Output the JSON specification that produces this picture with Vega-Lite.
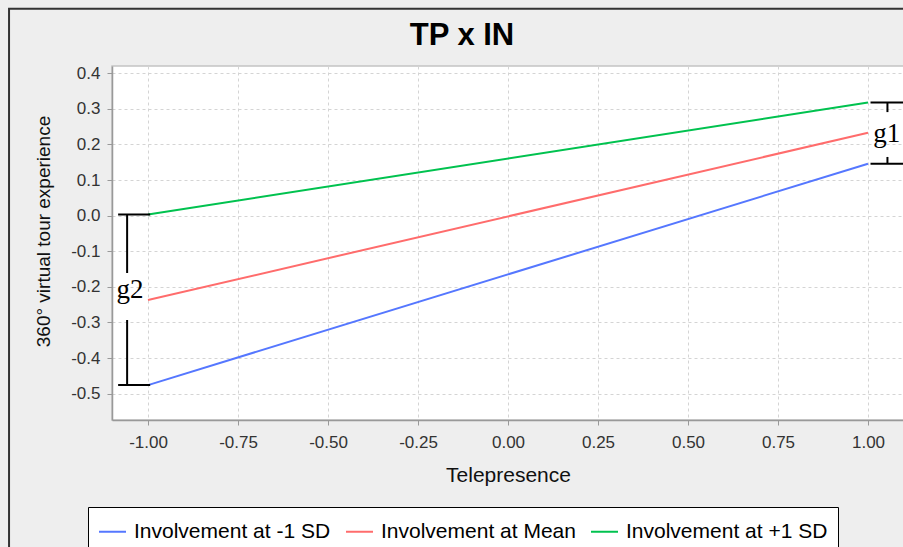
{
  "$schema": "https://vega.github.io/schema/vega-lite/v6.json",
  "width": 792,
  "height": 354,
  "autosize": {"type": "none"},
  "padding": {"left": 112, "top": 66, "right": 0, "bottom": 127},
  "background": "#eeeeee",
  "title": {
    "text": "TP x IN",
    "font": "Liberation Sans",
    "fontSize": 31,
    "fontWeight": "bold",
    "color": "#000000",
    "anchor": "middle",
    "dx": -46,
    "baseline": "alphabetic",
    "offset": -68
  },
  "config": {
    "view": {"fill": "white", "stroke": "#c4c4c4", "strokeWidth": 1.5},
    "font": "Liberation Sans",
    "axis": {"labelOverlap": false, "labelFlush": false},
    "axisY": {"labelOverlap": false},
    "axisQuantitative": {"labelOverlap": false},
    "locale": {
      "number": {
        "decimal": ".",
        "thousands": ",",
        "grouping": [3],
        "currency": ["$", ""],
        "minus": "-"
      }
    }
  },
  "datasets": {
    "lines": [
      {"series": "Involvement at -1 SD", "x": -1, "y": -0.476},
      {"series": "Involvement at -1 SD", "x": 1, "y": 0.146},
      {"series": "Involvement at Mean", "x": -1, "y": -0.237},
      {"series": "Involvement at Mean", "x": 1, "y": 0.233},
      {"series": "Involvement at +1 SD", "x": -1, "y": 0.003},
      {"series": "Involvement at +1 SD", "x": 1, "y": 0.318}
    ],
    "brackets": [
      {"x": -1.083, "x2": -0.994, "y": 0.003, "y2": 0.003},
      {"x": -1.083, "x2": -0.994, "y": -0.476, "y2": -0.476},
      {"x": -1.058, "x2": -1.058, "y": 0.003, "y2": -0.161},
      {"x": -1.058, "x2": -1.058, "y": -0.293, "y2": -0.476},
      {"x": 1.007, "x2": 1.1, "y": 0.318, "y2": 0.318},
      {"x": 1.007, "x2": 1.1, "y": 0.146, "y2": 0.146},
      {"x": 1.054, "x2": 1.054, "y": 0.318, "y2": 0.291},
      {"x": 1.054, "x2": 1.054, "y": 0.165, "y2": 0.146}
    ],
    "labels": [
      {"t": "g2", "x": -1.05, "y": -0.231},
      {"t": "g1", "x": 1.052, "y": 0.207}
    ]
  },
  "layer": [
    {
      "data": {"name": "lines"},
      "mark": {"type": "line", "strokeWidth": 2},
      "encoding": {
        "x": {
          "field": "x",
          "type": "quantitative",
          "title": "Telepresence",
          "scale": {"domain": [-1.1, 1.1], "nice": false, "zero": false},
          "axis": {
            "values": [-1, -0.75, -0.5, -0.25, 0, 0.25, 0.5, 0.75, 1],
            "format": ".2f",
            "labelOverlap": false,
            "labelFont": "Liberation Sans",
            "labelFontSize": 17,
            "labelColor": "#333333",
            "labelPadding": 9,
            "tickSize": 5,
            "tickColor": "#999999",
            "domainColor": "#999999",
            "domainWidth": 1.5,
            "grid": true,
            "gridColor": "#d4d4d4",
            "gridDash": [3, 3],
            "titleFont": "Liberation Sans",
            "titleFontSize": 21,
            "titleFontWeight": "normal",
            "titleColor": "#111111",
            "titleBaseline": "alphabetic",
            "titleY": 61
          }
        },
        "y": {
          "field": "y",
          "type": "quantitative",
          "title": "360° virtual tour experience",
          "scale": {"domain": [-0.574, 0.4205], "nice": false, "zero": false},
          "axis": {
            "tickCount": 10,
            "format": ".1f",
            "labelOverlap": false,
            "labelSeparation": 0,
            "labelFont": "Liberation Sans",
            "labelFontSize": 17,
            "labelColor": "#333333",
            "labelPadding": 7,
            "tickSize": 5,
            "tickColor": "#999999",
            "domainColor": "#999999",
            "domainWidth": 1.5,
            "grid": true,
            "gridColor": "#d4d4d4",
            "gridDash": [3, 3],
            "titleFont": "Liberation Sans",
            "titleFontSize": 19,
            "titleFontWeight": "normal",
            "titleColor": "#111111",
            "titleAngle": -90,
            "titleBaseline": "bottom",
            "titleX": -59,
            "titleY": 165
          }
        },
        "color": {
          "field": "series",
          "type": "nominal",
          "sort": ["Involvement at -1 SD", "Involvement at Mean", "Involvement at +1 SD"],
          "scale": {
            "domain": ["Involvement at -1 SD", "Involvement at Mean", "Involvement at +1 SD"],
            "range": ["#5577ff", "#ff6c6c", "#00c24f"]
          },
          "legend": {
            "orient": "none",
            "legendX": -24,
            "legendY": 441,
            "direction": "horizontal",
            "columns": 3,
            "title": null,
            "symbolType": "stroke",
            "symbolSize": 729,
            "symbolStrokeWidth": 2,
            "labelFont": "Liberation Sans",
            "labelFontSize": 21,
            "labelColor": "#000000",
            "labelLimit": 0,
            "labelOffset": 7,
            "columnPadding": 11,
            "padding": 10,
            "strokeColor": "#000000",
            "fillColor": "#ffffff",
            "cornerRadius": 0
          }
        }
      }
    },
    {
      "data": {"values": [{}]},
      "mark": {"type": "rect", "fill": null, "fillOpacity": 0, "stroke": "#333333", "strokeWidth": 2, "clip": false},
      "encoding": {
        "x": {"datum": -1.386, "type": "quantitative", "title": "Telepresence"},
        "x2": {"datum": 2.0},
        "y": {"datum": 0.581, "type": "quantitative", "title": "360° virtual tour experience"},
        "y2": {"datum": -2.0}
      }
    },
    {
      "data": {"name": "brackets"},
      "mark": {"type": "rule", "color": "#000000", "strokeWidth": 2, "clip": true},
      "encoding": {
        "x": {"field": "x", "type": "quantitative", "title": "Telepresence"},
        "x2": {"field": "x2"},
        "y": {"field": "y", "type": "quantitative", "title": "360° virtual tour experience"},
        "y2": {"field": "y2"}
      }
    },
    {
      "data": {"name": "labels"},
      "mark": {"type": "text", "font": "Liberation Serif", "fontSize": 27, "baseline": "alphabetic", "align": "center", "color": "#000000"},
      "encoding": {
        "x": {"field": "x", "type": "quantitative", "title": "Telepresence"},
        "y": {"field": "y", "type": "quantitative", "title": "360° virtual tour experience"},
        "text": {"field": "t"}
      }
    }
  ]
}
